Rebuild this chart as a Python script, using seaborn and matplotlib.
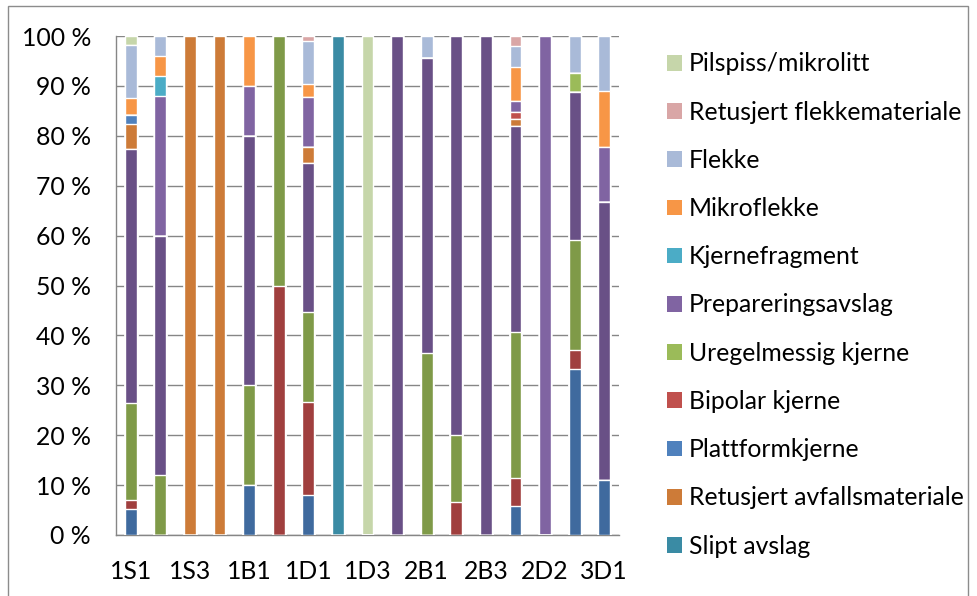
import numpy as np
import pandas as pd
import matplotlib.pyplot as plt
import seaborn as sns
from matplotlib.patches import Patch, Rectangle

# Lokaliteter (bare annenhver vises på x-aksen, som i Excel-originalen)
lokaliteter = ["1S1", "1S2", "1S3", "1S4", "1B1", "1B2", "1D1", "1D2", "1D3",
               "2S1", "2B1", "2B2", "2B3", "2D1", "2D2", "3B1", "3D1"]

# Andeler i % per lokalitet, serie for serie (nederst -> øverst i søylen)
# De fire første seriene er ikke med i legenden (legenden er avkuttet)
serie_1 = [5.3, 0, 0, 0, 10, 0, 8.0, 0, 0, 0, 0, 0, 0, 5.8, 0, 33.3, 11.1]
serie_2 = [1.8, 0, 0, 0, 0, 50, 18.7, 0, 0, 0, 0, 6.7, 0, 5.7, 0, 3.7, 0]
serie_3 = [19.3, 12, 0, 0, 20, 50, 18.0, 0, 0, 0, 36.4, 13.3, 0, 29.1, 0, 22.2, 0]
serie_4 = [50.9, 48, 0, 0, 50, 0, 29.8, 0, 0, 100, 59.1, 80, 100, 41.4, 0, 29.6, 55.6]
slipt_avslag = [0, 0, 0, 0, 0, 0, 0, 100, 0, 0, 0, 0, 0, 0, 0, 0, 0]
ret_avfall = [5.0, 0, 100, 100, 0, 0, 3.3, 0, 0, 0, 0, 0, 0, 1.4, 0, 0, 0]
plattformkjerne = [1.8, 0, 0, 0, 0, 0, 0, 0, 0, 0, 0, 0, 0, 0, 0, 0, 0]
bipolar = [0, 0, 0, 0, 0, 0, 0, 0, 0, 0, 0, 0, 0, 1.4, 0, 0, 0]
uregelmessig = [0, 0, 0, 0, 0, 0, 0, 0, 0, 0, 0, 0, 0, 0, 0, 3.7, 0]
prepareringsavslag = [0, 28, 0, 0, 10, 0, 10.0, 0, 0, 0, 0, 0, 0, 2.2, 100, 0, 11.1]
kjernefragment = [0, 4, 0, 0, 0, 0, 0, 0, 0, 0, 0, 0, 0, 0, 0, 0, 0]
mikroflekke = [3.5, 4, 0, 0, 10, 0, 2.5, 0, 0, 0, 0, 0, 0, 6.7, 0, 0, 11.1]
flekke = [10.5, 4, 0, 0, 0, 0, 8.7, 0, 0, 0, 4.5, 0, 0, 4.3, 0, 7.5, 11.1]
ret_flekke = [0, 0, 0, 0, 0, 0, 1.0, 0, 0, 0, 0, 0, 0, 2.0, 0, 0, 0]
pilspiss = [1.9, 0, 0, 0, 0, 0, 0, 0, 100, 0, 0, 0, 0, 0, 0, 0, 0]

serier = [serie_1, serie_2, serie_3, serie_4, slipt_avslag, ret_avfall,
          plattformkjerne, bipolar, uregelmessig, prepareringsavslag,
          kjernefragment, mikroflekke, flekke, ret_flekke, pilspiss]
navn = [None, None, None, None, "Slipt avslag", "Retusjert avfallsmateriale",
        "Plattformkjerne", "Bipolar kjerne", "Uregelmessig kjerne",
        "Prepareringsavslag", "Kjernefragment", "Mikroflekke", "Flekke",
        "Retusjert flekkemateriale", "Pilspiss/mikrolitt"]
farger = ["#3F6A9E", "#A03F3E", "#7F9A48", "#695086", "#3A8BA4", "#CD7B38",
          "#4F81BD", "#C0504D", "#9BBB59", "#8064A2", "#4BACC6", "#F79646",
          "#A9BAD8", "#D9A6A6", "#C6D6AA"]

df = pd.DataFrame(np.array(serier).T, index=lokaliteter)
kum = df.cumsum(axis=1)

sns.set_theme(style="white")
plt.rcParams["font.family"] = ["Lato", "DejaVu Sans"]
plt.rcParams["text.color"] = "black"
fs = 17.8

fig = plt.figure(figsize=(9.78, 5.96), dpi=100)
ax = fig.add_axes([116 / 978, 1 - 535 / 596, 503 / 978, 499 / 596])

# Stablede søyler: tegn kumulative summer ovenfra og ned
for i in range(len(serier) - 1, -1, -1):
    sns.barplot(x=lokaliteter, y=kum[i].values, color=farger[i], saturation=1,
                width=0.4, errorbar=None, order=lokaliteter, ax=ax, zorder=3)

grå = "#868686"
ax.set_ylim(0, 100)
ax.set_xlim(-0.5, len(lokaliteter) - 0.5)
ax.set_yticks(range(0, 101, 10))
ax.set_yticklabels([f"{v} %" for v in range(0, 101, 10)])
ax.set_xticks(range(len(lokaliteter)))
ax.set_xticklabels([l if i % 2 == 0 else "" for i, l in enumerate(lokaliteter)])
ax.set_xticks(np.arange(-0.5, len(lokaliteter), 1), minor=True)
ax.tick_params(axis="x", which="major", length=0, pad=18, labelsize=fs, labelcolor="black")
ax.tick_params(axis="x", which="minor", length=5.5, width=1, color=grå, direction="out")
ax.tick_params(axis="y", length=5, width=1, color=grå, direction="out", pad=13,
               labelsize=fs, labelcolor="black")
ax.yaxis.grid(True, color=grå, linewidth=1)
ax.set_axisbelow(True)
for s in ["top", "right"]:
    ax.spines[s].set_visible(False)
for s in ["left", "bottom"]:
    ax.spines[s].set_color(grå)
    ax.spines[s].set_linewidth(1)
ax.set_xlabel("")
ax.set_ylabel("")

# Legende (Excel viser serier i omvendt rekkefølge)
handles = [Patch(facecolor=farger[i], edgecolor="none", label=navn[i])
           for i in range(len(serier) - 1, -1, -1) if navn[i]]
fig.legend(handles=handles, loc="center left", bbox_to_anchor=(667 / 978, 1 - 305 / 596),
           frameon=False, fontsize=fs, handlelength=0.6, handleheight=0.6,
           handletextpad=0.3, labelspacing=1.02, borderpad=0, borderaxespad=0)

# Ramme rundt diagrammet
fig.add_artist(Rectangle((8 / 978, -0.02), 960 / 978, 1.02 - 6 / 596,
                         transform=fig.transFigure, fill=False,
                         edgecolor="#8c8c8c", linewidth=1))

fig.savefig("out.png", dpi=100)
